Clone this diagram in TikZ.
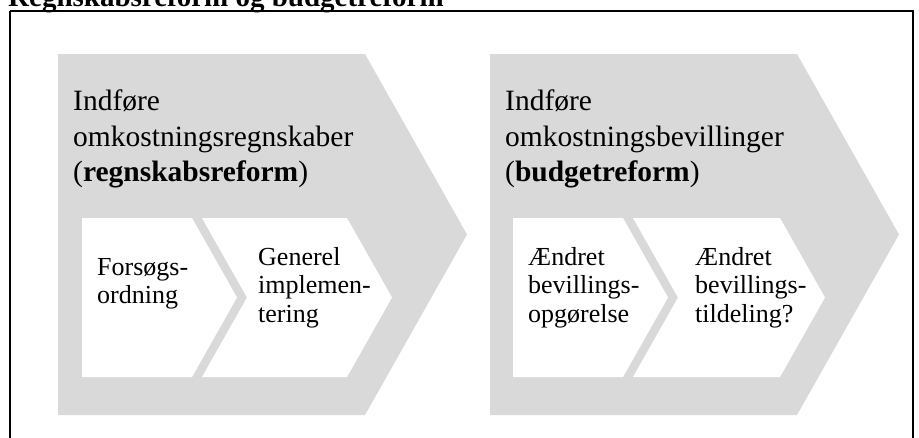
\documentclass[tikz,border=0pt]{standalone}
\usepackage{fontspec}
\setmainfont{Liberation Serif}
\definecolor{chevgray}{HTML}{D9D9D9}
\begin{document}
\begin{tikzpicture}[x=1pt,y=-1pt,
  bigchev/.style={fill=chevgray,draw=none},
  smallchev/.style={fill=white,draw=none},
  frame/.style={draw=black,line width=2pt},
  bigtext/.style={anchor=base west,inner sep=0pt,text width=420pt,align=left,
    font=\fontsize{29.5}{35.5}\selectfont},
  smalltext/.style={anchor=base west,inner sep=0pt,text width=150pt,align=left,
    font=\fontsize{26}{28.8}\selectfont},
  titletext/.style={anchor=base west,inner sep=0pt,font=\fontsize{29}{34}\selectfont\bfseries}]
\useasboundingbox (0,0) rectangle (919,437);
\clip (0,0) rectangle (919,437);
\fill[white] (0,0) rectangle (919,437);
% title (cut by the top edge)
\node[titletext] (title) at (8,6) {Regnskabsreform og budgetreform};
% frame
\draw[frame] (10,11) -- (913,11) -- (913,445);
\draw[frame] (10,11) -- (10,445);
% big chevrons
\fill[bigchev] (58,54) -- (365,54) -- (467,234.5) -- (365,415) -- (58,415) -- cycle;
\fill[bigchev] (490,54) -- (797,54) -- (899,234.5) -- (797,415) -- (490,415) -- cycle;
% small chevrons, first reform
\fill[smallchev] (82,218) -- (192,218) -- (237,297.5) -- (192,377) -- (82,377) -- cycle;
\fill[smallchev] (202,218) -- (347,218) -- (392,297.5) -- (347,377) -- (202,377) -- (247,297.5) -- cycle;
% small chevrons, second reform
\fill[smallchev] (513,218) -- (623,218) -- (668,297.5) -- (623,377) -- (513,377) -- cycle;
\fill[smallchev] (633,218) -- (780,218) -- (825,297.5) -- (780,377) -- (633,377) -- (678,297.5) -- cycle;
% texts
\node[bigtext] (t1) at (73,110.7) {Indføre\\omkostningsregnskaber\\(\textbf{regnskabsreform})};
\node[bigtext] (t2) at (505,110.7) {Indføre\\omkostningsbevillinger\\(\textbf{budgetreform})};
\node[smalltext] (s1) at (97,275) {Forsøgs-\\ordning};
\node[smalltext] (s2) at (258,265) {Generel\\implemen-\\tering};
\node[smalltext] (s3) at (528,265) {Ændret\\bevillings-\\opgørelse};
\node[smalltext] (s4) at (695,265) {Ændret\\bevillings-\\tildeling?};
\end{tikzpicture}
\end{document}
